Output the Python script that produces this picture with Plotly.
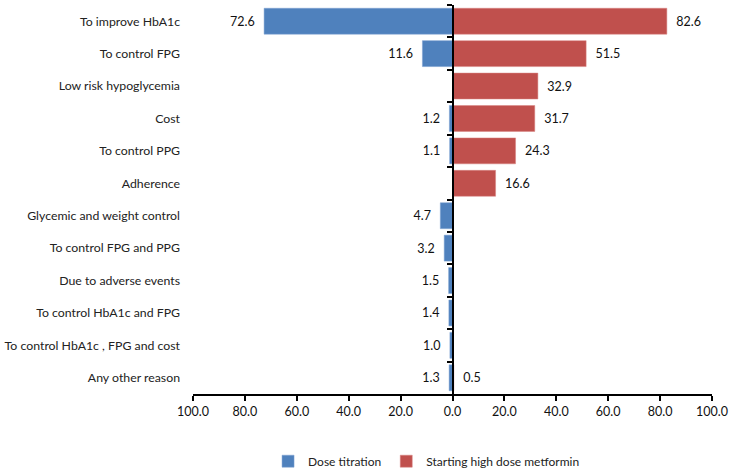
import plotly.graph_objects as go

categories = ["To improve HbA1c", "To control FPG", "Low risk hypoglycemia", "Cost",
              "To control PPG", "Adherence", "Glycemic and weight control",
              "To control FPG and PPG", "Due to adverse events", "To control HbA1c and FPG",
              "To control HbA1c , FPG and cost", "Any other reason"]
dose_titration = [72.6, 11.6, None, 1.2, 1.1, None, 4.7, 3.2, 1.5, 1.4, 1.0, 1.3]
high_dose = [82.6, 51.5, 32.9, 31.7, 24.3, 16.6, None, None, None, None, None, 0.5]
tick_vals = [-100, -80, -60, -40, -20, 0, 20, 40, 60, 80, 100]
tick_text = ["100.0", "80.0", "60.0", "40.0", "20.0", "0.0", "20.0", "40.0", "60.0", "80.0", "100.0"]

BLUE = "#4F81BD"
RED = "#C0504D"
FONT = "Lato"

blue_x = [(-v if v is not None else None) for v in dose_titration]
blue_txt = [(f"{v:.1f}\u00a0\u00a0" if v is not None else "") for v in dose_titration]
red_txt = [(f"\u00a0\u00a0{v:.1f}" if v is not None else "") for v in high_dose]

fig = go.Figure()
fig.add_trace(go.Bar(
    name="Dose titration", y=categories, x=blue_x, orientation="h",
    marker=dict(color=BLUE, line=dict(color="#7FA3D3", width=0.5)),
    text=blue_txt, textposition="outside", cliponaxis=False,
    textfont=dict(color="#111111", size=12.5, family=FONT),
    width=0.8, yaxis="y",
))
fig.add_trace(go.Bar(
    name="Starting high dose metformin", y=categories, x=high_dose, orientation="h",
    marker=dict(color=RED, line=dict(color="#D98583", width=0.5)),
    text=red_txt, textposition="outside", cliponaxis=False,
    textfont=dict(color="#111111", size=12.5, family=FONT),
    width=0.8, yaxis="y2",
))

fig.update_layout(
    width=731, height=473,
    margin=dict(l=193, r=19, t=5, b=79, autoexpand=False),
    paper_bgcolor="white", plot_bgcolor="white",
    font=dict(family=FONT, size=12, color="#222222"),
    barmode="overlay",
    showlegend=True,
    legend=dict(orientation="h", x=0.45, xanchor="center", yref="container",
                y=0.025, yanchor="middle",
                font=dict(size=12, family=FONT, color="#222222"), itemwidth=30,
                traceorder="normal"),
    xaxis=dict(range=[-100, 100], tickvals=tick_vals, ticktext=tick_text,
               showgrid=False, zeroline=False, showline=True, linecolor="black",
               linewidth=2, ticks="outside", ticklen=5, tickwidth=2, tickcolor="black",
               ticklabeloverflow="allow", automargin=False,
               tickfont=dict(size=12.5, color="#111111", family=FONT), fixedrange=True),
    yaxis=dict(categoryorder="array", categoryarray=categories, range=[11.5, -0.5],
               showgrid=False, zeroline=False, showline=False, ticks="",
               ticklabelstandoff=12, automargin=False,
               tickfont=dict(size=12.3, color="#222222", family=FONT)),
    yaxis2=dict(categoryorder="array", categoryarray=categories, range=[11.5, -0.5],
                overlaying="y", anchor="free", position=0.5, side="left",
                showgrid=False, zeroline=False, showline=True, linecolor="black",
                linewidth=2, ticks="outside", tickson="boundaries", ticklen=5,
                tickwidth=2, tickcolor="black", showticklabels=False, automargin=False),
)

fig.write_html("out.html", config={"displayModeBar": False},
               post_script="document.body.style.margin='0';document.body.style.overflow='hidden';")
